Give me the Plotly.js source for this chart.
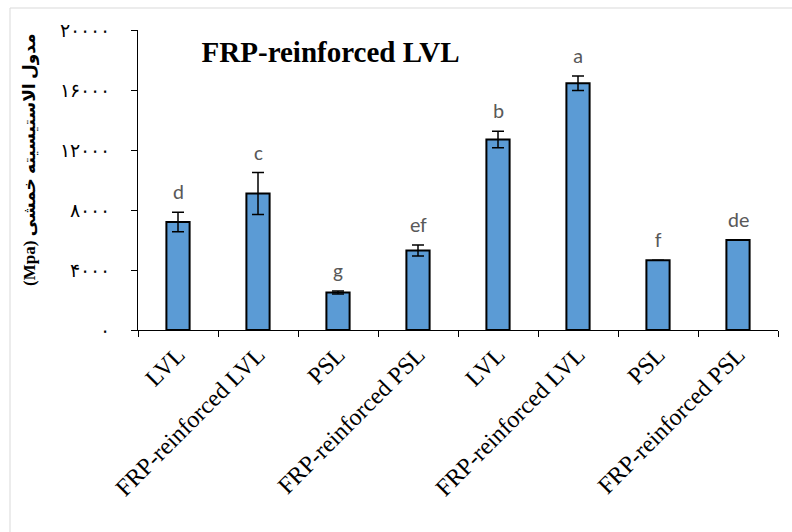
<!DOCTYPE html>
<html><head><meta charset="utf-8">
<script src="https://cdn.plot.ly/plotly-3.0.1.min.js"></script>
<style>html,body{margin:0;padding:0;background:#fff}#chart{width:792px;height:532px}</style>
</head><body><div id="chart"></div>
<script>
const keys = ["k1","k2","k3","k4","k5","k6","k7","k8"];
const labels = ["LVL","FRP-reinforced LVL","PSL","FRP-reinforced PSL","LVL","FRP-reinforced LVL","PSL","FRP-reinforced PSL"];
const values = [7200, 9100, 2500, 5300, 12700, 16450, 4650, 6000];
const errors = [650, 1400, 100, 370, 550, 480, 0, 0];
const letters = ["d","c","g","ef","b","a","f","de"];
const yTickVals = [0, 4000, 8000, 12000, 16000, 20000];
const yTickText = ["۰","۴۰۰۰","۸۰۰۰","۱۲۰۰۰","۱۶۰۰۰","۲۰۰۰۰"];
const yTitle = "(Mpa) مدول الاستیسیته خمشی";

const serif = "Liberation Serif, Times New Roman, DejaVu Serif, serif";

const trace = {
  type: "bar", x: keys, y: values, width: 0.29,
  marker: {color: "#5B9BD5", line: {color: "#000", width: 2}},
  error_y: {type: "data", array: errors, visible: true, color: "#000", thickness: 1.5, width: 6},
  hoverinfo: "none"
};

const annotations = keys.map((k, i) => ({
  x: k, y: values[i] + errors[i], xref: "x", yref: "y",
  text: letters[i], showarrow: false, yanchor: "bottom", yshift: 5,
  font: {family: "Carlito, Open Sans, sans-serif", size: 21, color: "#595959"}
}));
annotations.push({
  text: yTitle, xref: "paper", yref: "paper", x: -108/640, y: 0.567,
  xanchor: "center", yanchor: "middle", textangle: -90, showarrow: false,
  font: {family: "Liberation Serif, DejaVu Sans, sans-serif", size: 17, color: "#000", weight: "bold"}
});

const layout = {
  width: 792, height: 532,
  margin: {l: 138, r: 14, t: 30, b: 202},
  paper_bgcolor: "#fff", plot_bgcolor: "#fff",
  showlegend: false,
  title: {text: "FRP-reinforced LVL", xref: "paper", x: 0.301, xanchor: "center",
          yref: "container", y: 0.902, yanchor: "middle",
          font: {family: serif, size: 29, color: "#000", weight: "bold"}},
  xaxis: {type: "category", tickmode: "array", tickvals: keys, ticktext: labels,
          tickson: "boundaries", ticks: "outside", ticklen: 6, tickcolor: "#000",
          tickangle: -45, showline: true, linecolor: "#000", linewidth: 1,
          showgrid: false, zeroline: false,
          tickfont: {family: serif, size: 24, color: "#000"}},
  yaxis: {range: [0, 20000], tickmode: "array", tickvals: yTickVals, ticktext: yTickText,
          ticks: "outside", ticklen: 6, tickcolor: "#000", showline: true, linecolor: "#000",
          linewidth: 1, showgrid: false, zeroline: false, ticklabelstandoff: 17,
          tickfont: {family: "DejaVu Serif, " + serif, size: 19, color: "#000"}},
  annotations: annotations,
  shapes: [{type: "rect", xref: "paper", yref: "paper",
            x0: -128/640, x1: 2, y0: -1, y1: 1 + 22/300,
            line: {color: "#d9d9d9", width: 1}, fillcolor: "rgba(0,0,0,0)", layer: "below"}]
};

Plotly.newPlot("chart", [trace], layout, {displayModeBar: false, staticPlot: true});
</script></body></html>
